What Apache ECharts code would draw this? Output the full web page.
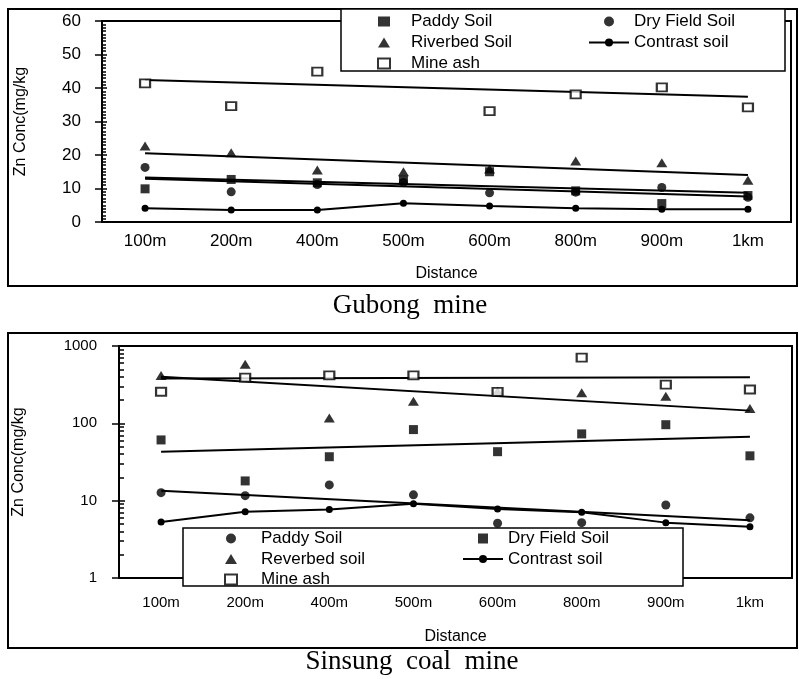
<!DOCTYPE html>
<html>
<head>
<meta charset="utf-8">
<title>Zn concentration by distance</title>
<script src="https://cdn.jsdelivr.net/npm/echarts@6/dist/echarts.min.js"></script>
<style>
  html, body { margin: 0; padding: 0; background: #fff; }
  #gubong { position: absolute; left: 0; top: 0; width: 799px; height: 320px; }
  #sinsung { position: absolute; left: 0; top: 320px; width: 799px; height: 359px; }
</style>
</head>
<body>
<div id="gubong"></div>
<div id="sinsung"></div>
<script>
  /* ---------- data (mg/kg) ---------- */
  const distances = ['100m', '200m', '400m', '500m', '600m', '800m', '900m', '1km'];

  // Gubong mine
  const gbPaddy    = [9.9, 12.7, 11.7, 12.5, 15.0, 9.3, 5.5, 7.9];
  const gbDryField = [16.3, 9.0, 11.2, 11.8, 8.7, 8.9, 10.3, 7.4];
  const gbRiverbed = [22.7, 20.7, 15.5, 15.0, 15.8, 18.2, 17.7, 12.5];
  const gbContrast = [4.1, 3.6, 3.6, 5.6, 4.8, 4.1, 3.8, 3.8];
  const gbMineAsh  = [41.4, 34.6, 44.9, null, 33.1, 38.1, 40.2, 34.2];
  // trend lines: value at 100m and at 1km
  const gbPaddyTrend    = [13.3, null, null, null, null, null, null, 8.7];
  const gbDryTrend      = [12.9, null, null, null, null, null, null, 7.6];
  const gbRiverbedTrend = [20.5, null, null, null, null, null, null, 14.0];
  const gbMineAshTrend  = [42.4, null, null, null, null, null, null, 37.4];

  // Sinsung coal mine
  const ssPaddy    = [12.7, 11.6, 16, 11.9, 5.1, 5.2, 8.8, 6.0];
  const ssDryField = [61, 18, 37, 83, 43, 73, 96, 38];
  const ssRiverbed = [416, 580, 117, 193, 260, 248, 224, 155];
  const ssContrast = [5.3, 7.2, 7.7, 9.1, 7.8, 7.1, 5.2, 4.6];
  const ssMineAsh  = [256, 389, 416, 416, 255, 707, 317, 274];
  const ssPaddyTrend    = [13.4, null, null, null, null, null, null, 5.6];
  const ssDryTrend      = [43, null, null, null, null, null, null, 67];
  const ssRiverbedTrend = [400, null, null, null, null, null, null, 146];
  const ssMineAshTrend  = [380, null, null, null, null, null, null, 395];

  /* ---------- shared styles ---------- */
  const INK = '#000';
  const FONT = 'Liberation Sans, Arial, sans-serif';
  const SERIF = 'Liberation Serif, Times New Roman, serif';

  const MARK = {
    square:   { symbol: 'rect', symbolSize: [9, 9], itemStyle: { color: INK } },
    circle:   { symbol: 'circle', symbolSize: 9, itemStyle: { color: INK } },
    triangle: { symbol: 'triangle', symbolSize: [11, 9], itemStyle: { color: INK } },
    open:     { symbol: 'rect', symbolSize: [10, 8], itemStyle: { color: '#fff', borderColor: INK, borderWidth: 2 } }
  };
  // a built-in rect would stretch across a 40px legend icon; a path keeps its aspect
  const ICON_SQUARE = 'path://M0,0H10V10H0Z';

  function scatter(name, data, mark) {
    return Object.assign({ type: 'scatter', name: name, data: data, z: 3 }, mark);
  }
  function contrastLine(name, data) {
    return {
      type: 'line', name: name, data: data, symbol: 'circle', symbolSize: 7,
      itemStyle: { color: INK }, lineStyle: { color: INK, width: 2 }, z: 3
    };
  }
  function trend(name, data) {
    return {
      type: 'line', name: name, data: data, connectNulls: true, showSymbol: false,
      lineStyle: { color: INK, width: 2 }, silent: true, z: 2
    };
  }

  function xAxisOf(labelMargin, nameGap, fontSize) {
    return {
      type: 'category', data: distances,
      axisLine: { lineStyle: { color: INK, width: 2 } },
      axisTick: { length: 5, lineStyle: { color: INK, width: 1.5 } },
      axisLabel: { color: INK, fontFamily: FONT, fontSize: fontSize, margin: labelMargin },
      name: 'Distance', nameLocation: 'middle', nameGap: nameGap,
      nameTextStyle: { color: INK, fontFamily: FONT, fontSize: 16 },
      splitLine: { show: false }
    };
  }

  // one vertical legend per column; the surrounding box is a graphic rect
  function legendColumn(left, top, names, iconWidth, textPad, gap) {
    return {
      orient: 'vertical', left: left, top: top, padding: 0, z: 10,
      itemWidth: iconWidth, itemHeight: 10, itemGap: gap,
      textStyle: { color: INK, fontFamily: FONT, fontSize: 17, lineHeight: 16, padding: [0, 0, 0, textPad] },
      selectedMode: false, data: names
    };
  }

  function legendBox(x, y, w, h) {
    return { type: 'rect', z: 9, shape: { x: x, y: y, width: w, height: h }, style: { fill: '#fff', stroke: INK, lineWidth: 1.5 } };
  }
  function frame(y, h) {
    return { type: 'rect', z: 0, shape: { x: 8, y: y, width: 789, height: h }, style: { fill: null, stroke: INK, lineWidth: 2 } };
  }
  function caption(text, x, y) {
    return { type: 'text', x: x, y: y, style: { text: text, font: '27px ' + SERIF, fill: INK, align: 'center', verticalAlign: 'middle' } };
  }

  /* ---------- Gubong mine (linear axis) ---------- */
  const gb = echarts.init(document.getElementById('gubong'), null, { renderer: 'canvas' });
  gb.setOption({
    animation: false,
    grid: { left: 102, right: 8, top: 21, bottom: 98, show: true, borderColor: INK, borderWidth: 2 },
    xAxis: xAxisOf(11, 44, 17),
    yAxis: [{
      type: 'value', min: 0, max: 60, interval: 10,
      axisLine: { show: true, lineStyle: { color: INK, width: 2 } },
      axisTick: { show: true, length: 7, lineStyle: { color: INK, width: 1.5 } },
      axisLabel: { color: INK, fontFamily: FONT, fontSize: 17, margin: 21 },
      splitLine: { show: false },
      name: 'Zn Conc(mg/kg', nameLocation: 'middle', nameGap: 73,
      nameTextStyle: { color: INK, fontFamily: FONT, fontSize: 16 }
    }, {
      type: 'value', position: 'left', min: 0, max: 60, interval: 10,
      axisLine: { show: true, lineStyle: { color: INK, width: 2 } },
      axisTick: { show: true, inside: true, length: 5, lineStyle: { color: INK, width: 1.5 } },
      minorTick: { show: true, splitNumber: 10, length: 4, lineStyle: { color: INK, width: 1.5 } },
      axisLabel: { show: false }, splitLine: { show: false }
    }],
    legend: [
      legendColumn(377, 13, ['Paddy Soil', 'Riverbed Soil', 'Mine ash'], 12, 16, 4),
      legendColumn(588, 13, ['Dry Field Soil', 'Contrast soil'], 40, 0, 4)
    ],
    graphic: [frame(9, 277), legendBox(341, 9, 444, 62), caption('Gubong  mine', 410, 306)],
    series: [
      trend('Mine ash trend', gbMineAshTrend),
      trend('Riverbed Soil trend', gbRiverbedTrend),
      trend('Paddy Soil trend', gbPaddyTrend),
      trend('Dry Field Soil trend', gbDryTrend),
      scatter('Paddy Soil', gbPaddy, MARK.square),
      scatter('Dry Field Soil', gbDryField, MARK.circle),
      scatter('Riverbed Soil', gbRiverbed, MARK.triangle),
      contrastLine('Contrast soil', gbContrast),
      scatter('Mine ash', gbMineAsh, MARK.open)
    ]
  });

  /* ---------- Sinsung coal mine (log axis) ---------- */
  const ss = echarts.init(document.getElementById('sinsung'), null, { renderer: 'canvas' });
  ss.setOption({
    animation: false,
    grid: { left: 119, right: 7, top: 26, bottom: 101, show: true, borderColor: INK, borderWidth: 2 },
    xAxis: xAxisOf(17, 51, 15),
    yAxis: [{
      type: 'log', logBase: 10, min: 1, max: 1000,
      axisLine: { show: true, lineStyle: { color: INK, width: 2 } },
      axisTick: { show: true, length: 7, lineStyle: { color: INK, width: 1.5 } },
      axisLabel: {
        color: INK, fontFamily: FONT, fontSize: 15, margin: 22,
        formatter: function (v) { return String(v); }
      },
      splitLine: { show: false },
      name: 'Zn Conc(mg/kg', nameLocation: 'middle', nameGap: 92,
      nameTextStyle: { color: INK, fontFamily: FONT, fontSize: 16 }
    }, {
      type: 'log', logBase: 10, min: 1, max: 1000, position: 'left',
      axisLine: { show: true, lineStyle: { color: INK, width: 2 } },
      axisTick: { show: true, inside: true, length: 6, lineStyle: { color: INK, width: 1.5 } },
      minorTick: { show: true, splitNumber: 9, length: 5, lineStyle: { color: INK, width: 1.5 } },
      axisLabel: { show: false }, splitLine: { show: false }
    }],
    legend: [
      legendColumn(224, 210, ['Paddy Soil', 'Reverbed soil', 'Mine ash'], 12, 19, 3.5),
      legendColumn(462, 210, [{ name: 'Dry Field Soil', icon: ICON_SQUARE }, 'Contrast soil'], 40, 0, 3.5)
    ],
    graphic: [frame(13, 315), legendBox(183, 208, 500, 58), caption('Sinsung  coal  mine', 412, 342)],
    series: [
      trend('Mine ash trend', ssMineAshTrend),
      trend('Reverbed soil trend', ssRiverbedTrend),
      trend('Dry Field Soil trend', ssDryTrend),
      trend('Paddy Soil trend', ssPaddyTrend),
      scatter('Paddy Soil', ssPaddy, MARK.circle),
      scatter('Dry Field Soil', ssDryField, MARK.square),
      scatter('Reverbed soil', ssRiverbed, MARK.triangle),
      contrastLine('Contrast soil', ssContrast),
      scatter('Mine ash', ssMineAsh, MARK.open)
    ]
  });
</script>
</body>
</html>
